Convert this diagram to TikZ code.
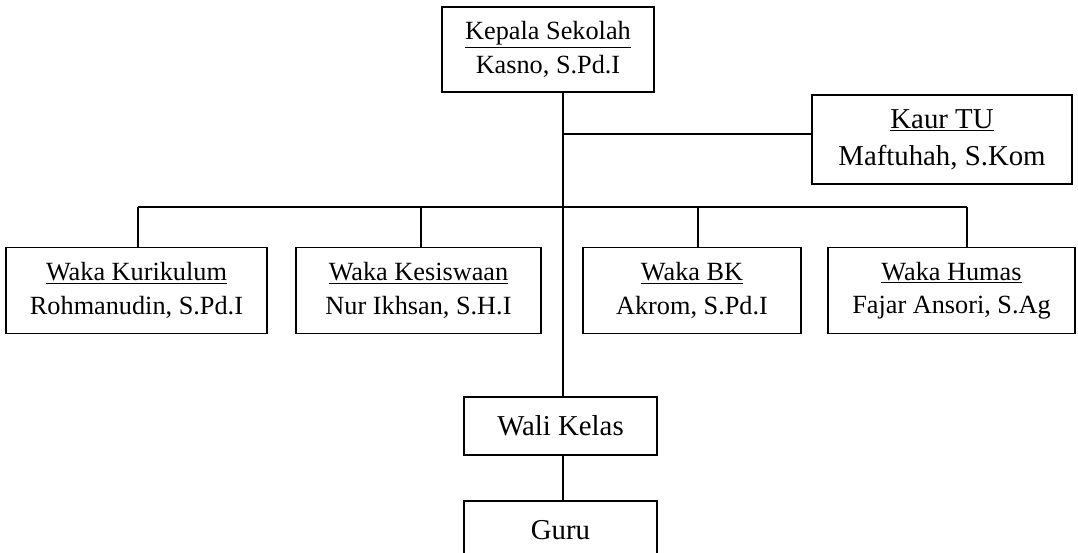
\documentclass[tikz,border=0pt]{standalone}
\usepackage{fontspec}
\setmainfont{Liberation Serif}
\begin{document}
\begin{tikzpicture}[x=0.75pt, y=-0.75pt, line width=1.2pt,
  kotak/.style={draw, align=center, inner sep=0pt, outer sep=0pt, font=\fontsize{19.7}{25}\selectfont},
  besar/.style={font=\fontsize{21.6}{28}\selectfont}]
\useasboundingbox (0,0) rectangle (1078,553);
\clip (0,0) rectangle (1078,553);
\node (kepala) at (548,49.5) [kotak, minimum width=159pt, minimum height=63.75pt] {\underline{Kepala Sekolah}\\Kasno, S.Pd.I};
\node (kaur) at (942,139.5) [kotak, besar, minimum width=195pt, minimum height=66.75pt] {\underline{Kaur TU}\\Maftuhah, S.Kom};
\node (kurikulum) at (136.5,290.5) [kotak, minimum width=195.75pt, minimum height=64.5pt] {\underline{Waka Kurikulum}\\Rohmanudin, S.Pd.I};
\node (kesiswaan) at (418.5,290.5) [kotak, minimum width=183.75pt, minimum height=64.5pt] {\underline{Waka Kesiswaan}\\Nur Ikhsan, S.H.I};
\node (bk) at (692,290.5) [kotak, minimum width=163.5pt, minimum height=64.5pt] {\underline{Waka BK}\\Akrom, S.Pd.I};
\node (humas) at (951.5,290.5) [kotak, minimum width=185.25pt, minimum height=64.5pt] {\underline{Waka Humas}\\Fajar Ansori, S.Ag};
\node (wali) at (560.5,426) [kotak, besar, minimum width=144.75pt, minimum height=43.5pt] {Wali Kelas};
\node (guru) at (560.5,530) [kotak, besar, minimum width=144.75pt, minimum height=43.5pt] {Guru};
\coordinate (j1) at (563,134);
\coordinate (d1) at (138,207);
\coordinate (d2) at (421,207);
\coordinate (d3) at (698,207);
\coordinate (d4) at (967,207);
% garis tengah
\draw (kepala.south -| j1) -- (wali.north -| j1);
\draw (j1) -- (j1 -| kaur.west);
\draw (wali.south -| j1) -- (guru.north -| j1);
% garis waka
\draw (d1) -- (d4);
\draw (d1) -- (d1 |- kurikulum.north);
\draw (d2) -- (d2 |- kesiswaan.north);
\draw (d3) -- (d3 |- bk.north);
\draw (d4) -- (d4 |- humas.north);
\end{tikzpicture}
\end{document}
